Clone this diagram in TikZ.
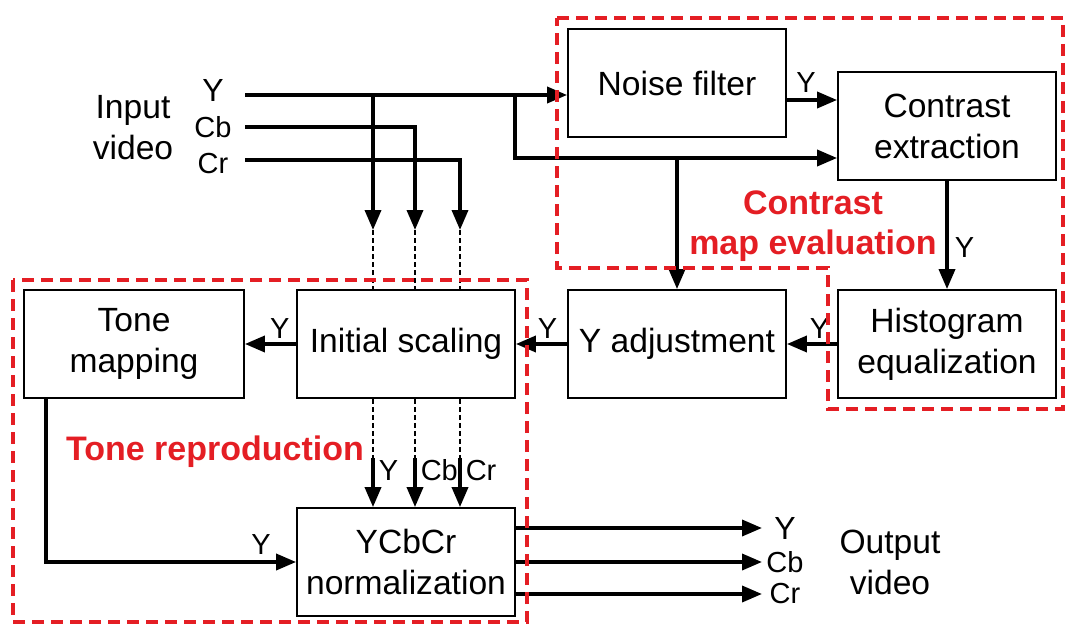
\documentclass[tikz,border=0pt]{standalone}
\usepackage{fontspec}
\setmainfont{Liberation Sans}
\usetikzlibrary{arrows.meta}
\definecolor{grp}{RGB}{228,30,36}

\begin{document}
\begin{tikzpicture}[>={Triangle[length=10pt,width=8pt]}, x=0.5pt, y=-0.5pt,
  font=\fontsize{16.8}{20.5}\selectfont,
  block/.style={draw, line width=0.9pt, minimum width=109pt, minimum height=54pt, align=center, inner sep=2pt},
  sig/.style={line width=1.8pt},
  link/.style={line width=0.8pt, dash pattern=on 2.5pt off 1.5pt},
  group/.style={draw=grp, line width=1.6pt, dash pattern=on 6pt off 3.5pt},
  grouplabel/.style={text=grp, font=\fontsize{17}{20}\selectfont\bfseries, align=center},
  tag/.style={font=\fontsize{14.5}{16}\selectfont, inner sep=1pt}]
\useasboundingbox (0,0) rectangle (1065,626);
% blocks
\node[block] (nf) at (677,83) {Noise filter};
\node[block] (ce) at (947,126) {Contrast\\extraction};
\node[block] (he) at (947,344) {Histogram\\equalization};
\node[block] (ya) at (677,344) {Y adjustment};
\node[block] (is) at (406,344) {Initial scaling};
\node[block, minimum width=110pt] (tm) at (134,344) {Tone\\mapping};
\node[block] (nm) at (406,562) {YCbCr\\normalization};
% input / output labels
\node[align=center] (in) at (133,128) {Input\\video};
\node[tag, font=\fontsize{16}{18}\selectfont] (iy) at (213,90) {Y};
\node[tag] (icb) at (213,127) {Cb};
\node[tag] (icr) at (213,164) {Cr};
\node[align=center] (out) at (890,562) {Output\\video};
\node[tag, font=\fontsize{16}{18}\selectfont] (oy) at (785,528) {Y};
\node[tag] (ocb) at (785,562) {Cb};
\node[tag] (ocr) at (785,594) {Cr};
% junction points
\coordinate (y0) at (245,95);
\coordinate (cb0) at (245,127);
\coordinate (cr0) at (245,160);
\coordinate (ty) at (373,230);
\coordinate (tcb) at (415,230);
\coordinate (tcr) at (460,230);
\coordinate (by) at (373,458);
\coordinate (bcb) at (415,458);
\coordinate (bcr) at (460,458);
\coordinate (br) at (515,95);
\coordinate (lo) at (515,158);
\coordinate (oend) at (762,0);
% input video
\draw[sig,->] (y0) -- (y0 -| nf.west);
\draw[sig,->] (y0 -| ty) -- (ty);
\draw[sig,->] (cb0) -| (tcb);
\draw[sig,->] (cr0) -| (tcr);
\draw[link] (ty) -- (ty |- is.north);
\draw[link] (tcb) -- (tcb |- is.north);
\draw[link] (tcr) -- (tcr |- is.north);
% contrast map path
\draw[sig,->] (br) |- ([yshift=-16pt]ce.west);
\draw[sig,->] (ya.north |- lo) -- (ya.north);
\draw[sig,->] ([yshift=-8.5pt]nf.east) -- ([yshift=-8.5pt]nf.east -| ce.west)
  node[tag, pos=0.38, above=2pt] {Y};
\draw[sig,->] (ce.south) -- (he.north) node[tag, pos=0.62, right=2pt] {Y};
\draw[sig,->] (he.west) -- (ya.east) node[tag, pos=0.35, above=1pt] {Y};
\draw[sig,->] (ya.west) -- (is.east) node[tag, pos=0.38, above=1pt] {Y};
\draw[sig,->] (is.west) -- (tm.east) node[tag, pos=0.32, above=1pt] {Y};
% to normalization
\draw[link] (is.south -| by) -- (by);
\draw[link] (is.south -| bcb) -- (bcb);
\draw[link] (is.south -| bcr) -- (bcr);
\draw[sig,->] (by) -- (by |- nm.north) node[tag, pos=0.25, right=1pt] {Y};
\draw[sig,->] (bcb) -- (bcb |- nm.north) node[tag, pos=0.25, right=1pt] {Cb};
\draw[sig,->] (bcr) -- (bcr |- nm.north) node[tag, pos=0.25, right=1pt] {Cr};
\draw[sig,->] ([xshift=-44pt]tm.south) |- (nm.west) node[tag, pos=0.93, above=2pt] {Y};
% output video
\draw[sig,->] ([yshift=17pt]nm.east) -- (oend |- oy);
\draw[sig,->] (nm.east |- ocb) -- (oend |- ocb);
\draw[sig,->] ([yshift=-16pt]nm.east) -- (oend |- ocr);
% groups
\draw[group] (557,18) -- (1063,18) -- (1063,409) -- (828,409) -- (828,268) -- (557,268) -- cycle;
\draw[group] (13,280) rectangle (527,622);
\node[grouplabel] (cme) at (813,226) {Contrast\\map evaluation};
\node[grouplabel] (trl) at (215,452) {Tone reproduction};
\end{tikzpicture}
\end{document}
